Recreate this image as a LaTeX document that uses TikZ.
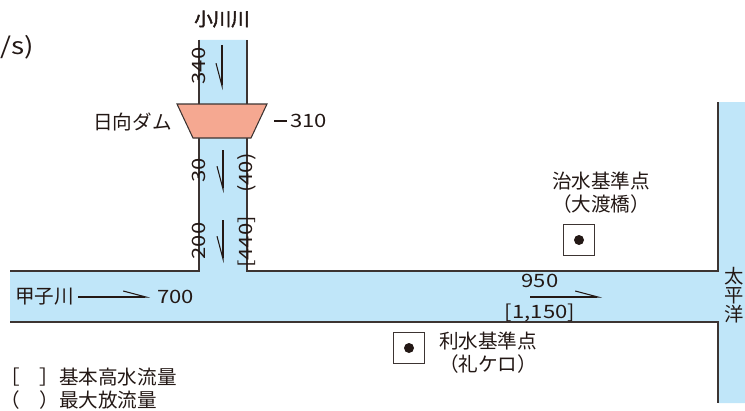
\documentclass[tikz,border=0pt]{standalone}
\usepackage{fontspec}
\setmainfont{Noto Sans CJK JP}
\newfontfamily\jpbold[FakeBold=2.5]{Noto Sans CJK JP}
\newfontfamily\numfont[FakeStretch=1.2]{Noto Sans CJK JP}
\usetikzlibrary{arrows.meta}

\definecolor{riverblue}{RGB}{192,230,249}
\definecolor{damred}{RGB}{245,168,145}
\definecolor{bankgray}{RGB}{60,52,50}
\definecolor{inkgray}{RGB}{35,24,21}

\tikzset{
	bank/.style={draw=bankgray, line width=1pt},
	lbl/.style={inner sep=0pt, text=inkgray, font=\fontsize{14.7}{17.2}\selectfont},
	num/.style={inner sep=0pt, text=inkgray, font=\fontsize{13.8}{17.2}\selectfont\numfont},
	flow/.style={line width=1.5pt, draw=inkgray, -{Straight Barb[#1, length=17pt, width=9pt, line width=0.8pt]}},
	flow/.default=left,
	gauge/.style={draw=bankgray, fill=white, line width=0.8pt, minimum size=23pt, inner sep=0pt},
	dot/.style={circle, fill=inkgray, minimum size=7.5pt, inner sep=0pt},
}

\begin{document}
\begin{tikzpicture}[x=0.75pt, y=-0.75pt]
	\useasboundingbox (0,0) rectangle (745,410);

	% water
	\fill[riverblue] (199,40) -- (247,40) -- (247,271) -- (718,271) -- (718,102) -- (745,102)
		-- (745,403) -- (718,403) -- (718,322) -- (10,322) -- (10,271) -- (199,271) -- cycle;
	\draw[bank] (199,40) -- (199,271) -- (10,271);
	\draw[bank] (247,40) -- (247,271) -- (718,271) -- (718,102);
	\draw[bank] (10,322) -- (718,322) -- (718,403);

	% dam
	\draw[fill=damred, draw=bankgray, line width=0.8pt] (177,104) -- (267,104) -- (251,138) -- (193,138) -- cycle;

	\node[lbl, font=\fontsize{13.8}{17.2}\selectfont\jpbold] (ogawa) at (222,19) {小川川};
	\node[lbl, anchor=east] (damname) at (172,122) {日向ダム};
	\node[num, anchor=west] (damq) at (274,121) {\rule[0.3em]{9.5pt}{1.8pt}\hspace{2.5pt}310};
	\node[num, anchor=west, font=\fontsize{17.5}{20}\selectfont\numfont] (unit) at (0,47) {/s)};

	\node[num, rotate=90] (q340) at (199,66) {340};
	\node[num, rotate=90] (q30) at (199,170) {30};
	\node[num, rotate=90] (q40) at (247,173) {(40)};
	\node[num, rotate=90] (q200) at (199,241) {200};
	\node[num, rotate=90] (q440) at (247,242) {[440]};

	\node[lbl, anchor=west] (kasshi) at (15,297) {甲子川};
	\node[num, anchor=west] (q700) at (157,297) {700};
	\node[num] (q950) at (540,281) {950};
	\node[num] (q1150) at (540,312.5) {[1,150]};
	\node[lbl, align=center, font=\fontsize{14.5}{14.5}\selectfont] (ocean) at (734,295) {太\\平\\洋};

	% base points
	\node[gauge] (chisuibox) at (579,240) {};
	\node[dot] (chisuidot) at (chisuibox) {};
	\node[lbl, align=center] (chisui) at (601,193) {治水基準点\\（大渡橋）};
	\node[gauge] (risuibox) at (409,348) {};
	\node[dot] (risuidot) at (risuibox) {};
	\node[lbl, align=center] (risui) at (488,353) {利水基準点\\（礼ケロ）};

	% legend
	\node[lbl, anchor=west] (legend1) at (0,377) {［　］基本高水流量};
	\node[lbl, anchor=west] (legend2) at (0,400) {（　）最大放流量};

	% flow arrows
	\coordinate (a1s) at (222,45);
	\coordinate (a1e) at (222,90);
	\coordinate (a2s) at (223,150);
	\coordinate (a2e) at (223,193);
	\coordinate (a3s) at (223,220);
	\coordinate (a3e) at (223,263);
	\coordinate (a4s) at (78,297);
	\coordinate (a4e) at (150,297);
	\coordinate (a5s) at (530,297);
	\coordinate (a5e) at (602,297);
	\draw[flow=right] (a1s) -- (a1e);
	\draw[flow=right] (a2s) -- (a2e);
	\draw[flow=right] (a3s) -- (a3e);
	\draw[flow] (a4s) -- (a4e);
	\draw[flow] (a5s) -- (a5e);
\end{tikzpicture}
\end{document}
